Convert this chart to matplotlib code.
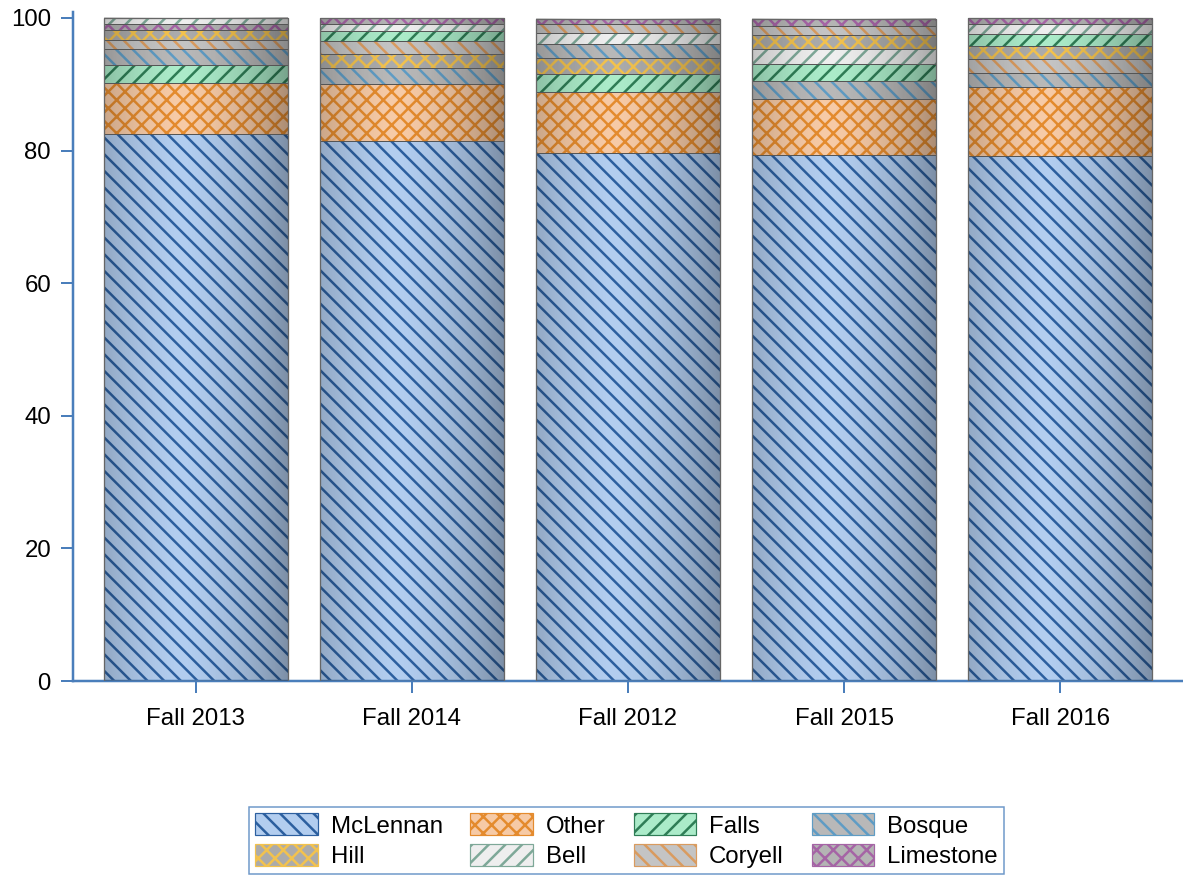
import matplotlib
matplotlib.use("Agg")
from matplotlib import pyplot as plt
from matplotlib.patches import Patch
import numpy as np

W, H, DPI = 1183, 875, 100
px = 72 / DPI  # one pixel in points

plt.rcParams['font.family'] = ['Liberation Sans', 'DejaVu Sans']
plt.rcParams['hatch.linewidth'] = 2.5 * px

years = ["Fall 2013", "Fall 2014", "Fall 2012", "Fall 2015", "Fall 2016"]
counties = ["McLennan", "Other", "Falls", "Bosque", "Hill", "Bell", "Coryell", "Limestone"]

# percent per county, one value per year (same order as years)
mclennan = [82.5, 81.4, 79.7, 79.4, 79.2]
other = [7.7, 8.6, 9.2, 8.45, 10.45]
falls = [2.7, 1.5, 2.6, 2.55, 1.85]
bosque = [2.4, 2.4, 2.1, 2.6, 2.1]
hill = [1.4, 2.1, 2.4, 2.2, 1.95]
bell = [0.9, 1.1, 1.75, 2.3, 1.55]
coryell = [1.45, 2.0, 1.3, 1.25, 2.0]
limestone = [0.95, 0.85, 0.85, 1.15, 0.85]

values = {"McLennan": mclennan, "Other": other, "Falls": falls, "Bosque": bosque,
          "Hill": hill, "Bell": bell, "Coryell": coryell, "Limestone": limestone}

# face colour, hatch colour, hatch pattern
styles = {
    "McLennan": ("#b2cdef", "#2c5f9f", "\\\\"),
    "Other": ("#f6caa6", "#e48b2e", "xx"),
    "Falls": ("#abebc9", "#2f7d56", "//"),
    "Bosque": ("#b8b8b8", "#5f9cc4", "\\\\"),
    "Hill": ("#ababab", "#f2c24e", "xx"),
    "Bell": ("#eeeeee", "#7ea898", "//"),
    "Coryell": ("#c4c4c4", "#d99b5f", "\\\\"),
    "Limestone": ("#b4b4b4", "#a564a5", "xx"),
}

axis_col = "#4a7ebb"
fig = plt.figure(figsize=(W / DPI, H / DPI), dpi=DPI)
ax = fig.add_axes([73 / W, (875 - 681) / H, (1183 - 73) / W, (681 - 12) / H])

width = 0.85
x = np.arange(len(years))

# cylinder-like shading across each bar
t = np.linspace(0, 1, 200)
shade = 0.3 * (np.abs(t - 0.42) / 0.58) ** 1.6
grad = np.zeros((1, len(t), 4))
grad[0, :, 3] = shade

for i, yr in enumerate(years):
    segs = sorted(counties, key=lambda c: -values[c][i])
    bottom = 0
    for c in segs:
        v = values[c][i]
        fc, hc, hp = styles[c]
        ax.bar(x[i], v, width, bottom=bottom, color=fc, edgecolor=hc, hatch=hp,
               linewidth=0, zorder=2)
        ax.bar(x[i], v, width, bottom=bottom, fill=False, edgecolor="#555555",
               linewidth=1.0 * px, zorder=4)
        bottom += v
    ax.imshow(grad, extent=(x[i] - width / 2, x[i] + width / 2, 0, bottom),
              aspect='auto', zorder=3, interpolation='bilinear')
    ax.bar(x[i], bottom, width, fill=False, edgecolor="#666666", linewidth=1.3 * px, zorder=5)

ax.set_xlim(-0.569, 4.569)
ax.set_ylim(0, 100.9)
ax.set_xticks(x)
ax.set_xticklabels(years)
ax.set_yticks([0, 20, 40, 60, 80, 100])

for s in ["top", "right"]:
    ax.spines[s].set_visible(False)
for s in ["left", "bottom"]:
    ax.spines[s].set_color(axis_col)
    ax.spines[s].set_linewidth(2.5 * px)
ax.tick_params(axis='both', colors=axis_col, labelcolor='black', labelsize=24 * px,
               length=12 * px, width=2 * px)
ax.tick_params(axis='x', pad=15 * px)
ax.tick_params(axis='y', pad=10 * px)

handles = [Patch(facecolor=styles[c][0], edgecolor=styles[c][1], hatch=styles[c][2],
                 linewidth=1.2 * px) for c in counties]
order = [0, 4, 1, 5, 2, 6, 3, 7]
leg = fig.legend([handles[k] for k in order], [counties[k] for k in order],
                 loc='center', bbox_to_anchor=(0.5296, 0.0394), ncol=4, fontsize=24 * px,
                 frameon=True, fancybox=False, handlelength=2.6, handleheight=1.05,
                 handletextpad=0.55, columnspacing=1.15, labelspacing=0.25,
                 borderpad=0.25, borderaxespad=0)
leg.get_frame().set_edgecolor(axis_col)
leg.get_frame().set_linewidth(1.5 * px)

fig.savefig("out.png", dpi=DPI)
